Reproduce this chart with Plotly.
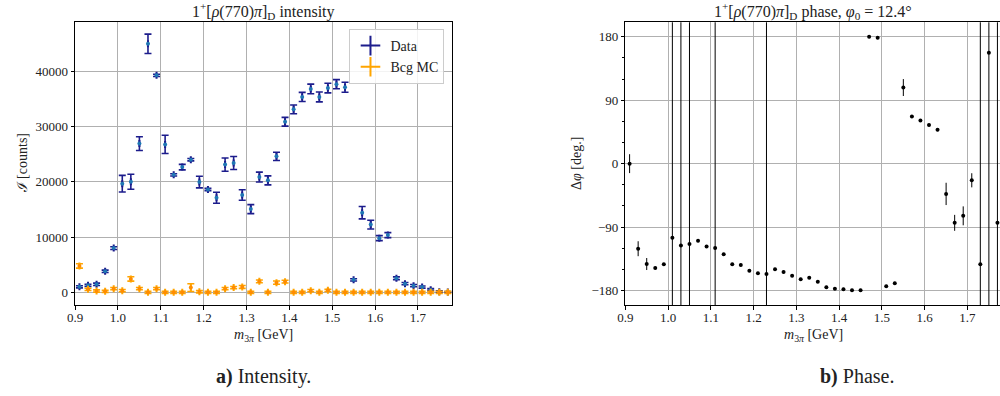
import plotly.graph_objects as go

# m_3pi bin centres [GeV]
mass = [0.91, 0.93, 0.95, 0.97, 0.99, 1.01, 1.03, 1.05, 1.07, 1.09, 1.11,
        1.13, 1.15, 1.17, 1.19, 1.21, 1.23, 1.25, 1.27, 1.29, 1.31, 1.33,
        1.35, 1.37, 1.39, 1.41, 1.43, 1.45, 1.47, 1.49, 1.51, 1.53, 1.55,
        1.57, 1.59, 1.61, 1.63, 1.65, 1.67, 1.69, 1.71, 1.73, 1.75, 1.77]
# mass uncertainty [GeV]
mass_err = [0.0005] * len(mass)

# 1+[rho(770)pi]_D intensity [counts]
data_int = [1000, 1270, 1450, 3800, 8000, 19650, 20000, 26900, 44950, 39250,
            26750, 21250, 22650, 24000, 19950, 18600, 17100, 23100, 23400,
            17600, 15050, 20850, 20250, 24600, 30850, 33100, 35350, 36800,
            35350, 36950, 37650, 37100, 2250, 14400, 12250, 9800, 10350, 2550,
            1570, 1200, 950, 480, 120, 60]
data_err = [200, 200, 220, 220, 250, 1500, 1350, 1250, 1750, 200, 1650, 200,
            500, 220, 1050, 200, 1000, 1200, 1180, 950, 820, 900, 820, 750,
            790, 790, 820, 870, 900, 880, 820, 900, 200, 1120, 790, 450, 450,
            250, 200, 200, 200, 180, 150, 100]

bcg_int = [4770, 540, 240, 180, 660, 300, 2420, 660, 0, 660, 0, 0, 0, 850,
           100, 0, 0, 660, 850, 970, 0, 1990, 0, 1750, 1930, 0, 0, 300, 0,
           360, 0, 0, 0, 0, 0, 0, 0, 0, 0, 0, 0, 0, 0, 0]
bcg_err = [400, 200, 200, 200, 200, 200, 400, 200, 200, 200, 200, 200, 200,
           700, 200, 200, 200, 200, 200, 250, 200, 250, 200, 300, 250, 200,
           200, 200, 200, 200, 200, 200, 200, 200, 200, 200, 200, 200, 200,
           200, 200, 200, 200, 200]

# relative phase [deg]
phase = [0.0, -120.6, -142.3, -148.0, -142.8, -105.0, -116.0, -114.0, -109.3,
         -117.3, -119.7, -128.6, -142.8, -143.7, -151.7, -155.5, -156.4,
         -149.8, -153.6, -158.8, -164.0, -161.6, -167.3, -175.3, -177.2,
         -178.1, -179.6, -179.6, 180.0, 178.6, -173.9, -169.6, 107.9, 66.9,
         61.3, 54.7, 48.1, -42.9, -83.9, -74.0, -23.6, -142.8, 157.4, -83.9]
phase_err = [13.4, 10.6, 8.5, 2.0, 2.0, 400, 400, 400, 2.0, 2.0, 400, 2.0,
             2.0, 2.0, 2.0, 2.0, 400, 2.0, 2.0, 2.0, 2.0, 2.0, 2.0, 2.0, 2.0,
             2.0, 2.0, 2.0, 2.0, 2.0, 2.0, 2.0, 12.0, 2.0, 2.0, 2.0, 2.0, 15.8,
             11.3, 13.4, 10.0, 400, 400, 400]

int_yticks = [0, 10000, 20000, 30000, 40000]
phase_yticks = [-180, -90, 0, 90, 180]
mass_xticks = [0.9, 1.0, 1.1, 1.2, 1.3, 1.4, 1.5, 1.6, 1.7]

W, H = 1000, 396
FONT = "Liberation Serif, DejaVu Serif, serif"
NAVY = "#1c1c8c"
LIGHTBLUE = "#1f77b4"
ORANGE = "#ffa500"
DARKORANGE = "#ff8c00"
GRID = "#b0b0b0"
TXT = "#222222"


def fx(px):
    return px / W


def fy(py):
    return 1 - py / H


fig = go.Figure()

# intensity panel
fig.add_trace(go.Scatter(
    x=mass, y=data_int, mode="markers", showlegend=False,
    marker=dict(color=LIGHTBLUE, size=4),
    error_y=dict(type="data", array=data_err, color=NAVY, thickness=1.6, width=3.5),
    error_x=dict(type="data", array=mass_err, color=NAVY, thickness=1.6, width=3.5),
    xaxis="x", yaxis="y"))
fig.add_trace(go.Scatter(
    x=mass, y=bcg_int, mode="markers", showlegend=False,
    marker=dict(color=DARKORANGE, size=4),
    error_y=dict(type="data", array=bcg_err, color=ORANGE, thickness=1.6, width=3.5),
    error_x=dict(type="data", array=mass_err, color=ORANGE, thickness=1.6, width=3.5),
    xaxis="x", yaxis="y"))

# legend entries
for name, col in [("Data", NAVY), ("Bcg MC", ORANGE)]:
    fig.add_trace(go.Scatter(
        x=[None], y=[None], mode="markers", name=name,
        marker=dict(symbol="cross-thin-open", size=14, color=col,
                    line=dict(color=col, width=2)),
        xaxis="x", yaxis="y"))

# phase panel
fig.add_trace(go.Scatter(
    x=mass, y=phase, mode="markers", showlegend=False,
    marker=dict(color="black", size=4),
    error_y=dict(type="data", array=phase_err, color="black", thickness=1, width=0),
    xaxis="x2", yaxis="y2"))

axis_common = dict(
    showgrid=True, gridcolor=GRID, gridwidth=1, zeroline=False,
    showline=True, linecolor="black", linewidth=1,
    ticks="outside", ticklen=3.5, tickcolor="black", tickwidth=1,
    tickfont=dict(family=FONT, size=13, color=TXT),
)

fig.update_layout(
    width=W, height=H,
    margin=dict(l=0, r=0, t=0, b=0),
    paper_bgcolor="white", plot_bgcolor="white",
    font=dict(family=FONT, color=TXT),
    xaxis=dict(domain=[fx(67.7), fx(447.7)], range=[0.9, 1.78],
               tickvals=mass_xticks, ticktext=[f"{v:.1f}" for v in mass_xticks],
               mirror=True, anchor="y", ticklabelstandoff=-3, **axis_common),
    yaxis=dict(domain=[fy(305.3), fy(22)], range=[-2350, 48900],
               tickvals=int_yticks, tickformat="d", mirror=True, anchor="x",
               **axis_common),
    xaxis2=dict(domain=[fx(622.3), 1.0], range=[0.9, 1.776],
                tickvals=mass_xticks, ticktext=[f"{v:.1f}" for v in mass_xticks],
                mirror=True, anchor="y2", ticklabelstandoff=-3, **axis_common),
    yaxis2=dict(domain=[fy(305), fy(22.3)], range=[-200.4, 200.4],
                tickvals=phase_yticks, anchor="x2",
                minor=dict(dtick=30, ticks="outside", ticklen=2, tickcolor="black",
                           showgrid=False),
                **axis_common),
    legend=dict(x=fx(440), y=fy(29), xanchor="right", yanchor="top",
                bgcolor="rgba(255,255,255,0.85)", bordercolor="#cccccc",
                borderwidth=1, font=dict(family=FONT, size=14, color=TXT),
                itemwidth=30),
)

ann = [
    dict(x=fx(257.7), y=fy(11), text="1<sup>+</sup>[<i>ρ</i>(770)<i>π</i>]<sub>D</sub> intensity",
         size=16),
    dict(x=fx(811.7), y=fy(11),
         text="1<sup>+</sup>[<i>ρ</i>(770)<i>π</i>]<sub>D</sub> phase, <i>φ</i><sub>0</sub> = 12.4°",
         size=16),
    dict(x=fx(257.7), y=fy(335), text="<i>m</i><sub>3<i>π</i></sub> [GeV]", size=14),
    dict(x=fx(812), y=fy(335), text="<i>m</i><sub>3<i>π</i></sub> [GeV]", size=14),
    dict(x=fx(257.7), y=fy(376), text="<b>a)</b> Intensity.", size=20),
    dict(x=fx(856), y=fy(376), text="<b>b)</b> Phase.", size=20),
]
for a in ann:
    fig.add_annotation(x=a["x"], y=a["y"], xref="paper", yref="paper",
                       text=a["text"], showarrow=False, xanchor="center",
                       yanchor="middle", font=dict(family=FONT, size=a["size"], color=TXT))

fig.add_annotation(x=fx(15), y=fy(163.5), xref="paper", yref="paper",
                   text="ℐ [counts]", textangle=-90, showarrow=False,
                   xanchor="center", yanchor="middle",
                   font=dict(family=FONT, size=14, color=TXT))
fig.add_annotation(x=fx(573), y=fy(163.5), xref="paper", yref="paper",
                   text="Δ<i>φ</i> [deg.]", textangle=-90, showarrow=False,
                   xanchor="center", yanchor="middle",
                   font=dict(family=FONT, size=14, color=TXT))

fig.write_html("out.html")
